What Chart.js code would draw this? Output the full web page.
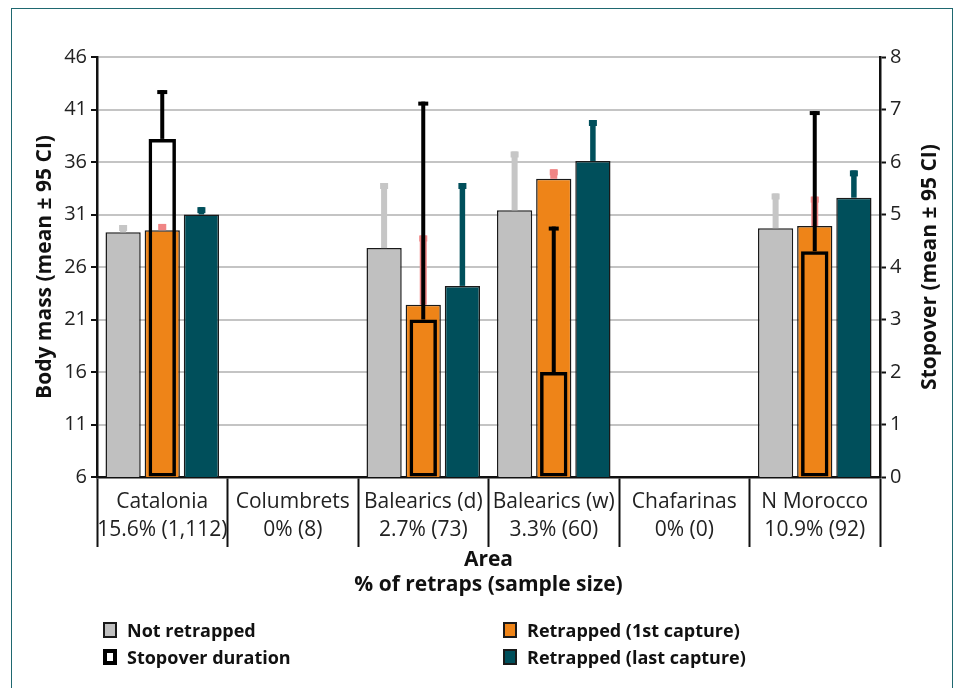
<!DOCTYPE html>
<html>
<head>
<meta charset="utf-8">
<script src="https://cdn.jsdelivr.net/npm/chart.js@4.4.1/dist/chart.umd.min.js"></script>
<style>
    html, body { margin: 0; padding: 0; background: #fff; }
    body { width: 955px; height: 688px; position: relative; overflow: hidden; font-family: "Open Sans", sans-serif; }
    .frame { position: absolute; left: 11px; top: 8px; width: 942px; height: 700px; border: 1.5px solid #1f6870; box-sizing: border-box; }
    #chart { position: absolute; left: 0; top: 0; }
    .legend-item { position: absolute; display: flex; align-items: center; font-weight: 700; font-size: 18px; color: #111; }
    .legend-box { width: 14px; height: 16px; box-sizing: border-box; margin-right: 10px; }
</style>
</head>
<body>
<div class="frame"></div>
<canvas id="chart" width="955" height="688"></canvas>
<div id="legend"></div>
<script>
// Categories and x tick labels
const areas = ['Catalonia', 'Columbrets', 'Balearics (d)', 'Balearics (w)', 'Chafarinas', 'N Morocco'];
const retrapPct = ['15.6%', '0%', '2.7%', '3.3%', '0%', '10.9%'];
const sampleSize = ['1,112', '8', '73', '60', '0', '92'];

// Body mass (mean) and upper 95% CI half-width, left axis
const notRetrapped = [29.3, null, 27.8, 31.4, null, 29.7];
const notRetrappedCI = [0.7, null, 6.2, 5.6, null, 3.3];
const firstCapture = [29.5, null, 22.4, 34.4, null, 29.9];
const firstCaptureCI = [0.6, null, 6.6, 0.9, null, 2.8];
const lastCapture = [31.0, null, 24.2, 36.1, null, 32.6];
const lastCaptureCI = [0.7, null, 9.8, 3.9, null, 2.6];

// Stopover duration (mean) and upper CI, right axis
const stopover = [6.44, null, 3.0, 2.0, null, 4.3];
const stopoverCI = [0.93, null, 4.15, 2.77, null, 2.67];

// Axis ticks
const massTicks = { min: 6, max: 46, step: 5 };
const stopTicks = { min: 0, max: 8, step: 1 };

const labels = areas.map((a, i) => [a, retrapPct[i] + ' (' + sampleSize[i] + ')']);
const rightTitle = 'Stopover (mean ± 95 CI)';

// draws only the plus side of each error bar, with a small square cap
const errorBars = {
    id: 'errorBars',
    afterDatasetDraw(chart, args) {
        const ds = chart.data.datasets[args.index];
        if (!ds.errorPlus) return;
        const meta = args.meta;
        const yScale = chart.scales[meta.yAxisID];
        const ctx = chart.ctx;
        ctx.save();
        meta.data.forEach((bar, i) => {
            const v = ds.data[i], e = ds.errorPlus[i];
            if (v == null || e == null) return;
            const yTop = yScale.getPixelForValue(v + e);
            ctx.fillStyle = ds.errorColor;
            ctx.fillRect(bar.x - ds.errorWidth / 2, yTop, ds.errorWidth, bar.y - yTop);
            ctx.fillRect(bar.x - ds.capWidth / 2, yTop, ds.capWidth, ds.capHeight);
        });
        ctx.restore();
    }
};

// right axis title reads bottom-to-top like the left one
const rightAxisTitle = {
    id: 'rightAxisTitle',
    afterDraw(chart) {
        const s = chart.scales.y2;
        const ctx = chart.ctx;
        ctx.save();
        ctx.translate(s.right - 11.5, (s.top + s.bottom) / 2);
        ctx.rotate(-Math.PI / 2);
        ctx.textAlign = 'center';
        ctx.textBaseline = 'middle';
        ctx.fillStyle = '#111';
        ctx.font = 'bold 21px "Open Sans"';
        ctx.fillText(rightTitle, 0, 0);
        ctx.restore();
    }
};

const tickFont = { family: 'Open Sans', size: 20 };
const titleFont = { family: 'Open Sans', size: 21, weight: 'bold', lineHeight: 1.1 };

const chart = new Chart(document.getElementById('chart'), {
    type: 'bar',
    data: {
        labels: labels,
        datasets: [
            {
                label: 'Not retrapped', data: notRetrapped, errorPlus: notRetrappedCI,
                backgroundColor: '#c0c0c0', borderColor: '#1a1a1a', borderWidth: 1.5,
                errorColor: '#c6c6c6', errorWidth: 6, capWidth: 8, capHeight: 6,
                categoryPercentage: 0.9, barPercentage: 0.9, yAxisID: 'y'
            },
            {
                label: 'Retrapped (1st capture)', data: firstCapture, errorPlus: firstCaptureCI,
                backgroundColor: '#ee8418', borderColor: '#1a1a1a', borderWidth: 1.5,
                errorColor: '#f08585', errorWidth: 7, capWidth: 8, capHeight: 6,
                categoryPercentage: 0.9, barPercentage: 0.9, yAxisID: 'y'
            },
            {
                label: 'Retrapped (last capture)', data: lastCapture, errorPlus: lastCaptureCI,
                backgroundColor: '#004f5b', borderColor: '#1a1a1a', borderWidth: 1.5,
                errorColor: '#004f5b', errorWidth: 5.5, capWidth: 8, capHeight: 6,
                categoryPercentage: 0.9, barPercentage: 0.9, yAxisID: 'y'
            },
            {
                label: 'Stopover duration', data: stopover, errorPlus: stopoverCI,
                backgroundColor: 'rgba(0,0,0,0)', borderColor: '#000', borderWidth: 3.5,
                borderSkipped: false,
                errorColor: '#000', errorWidth: 4, capWidth: 10, capHeight: 4,
                grouped: false, order: -1,
                categoryPercentage: 1, barPercentage: 0.21, yAxisID: 'y2'
            }
        ]
    },
    options: {
        responsive: false,
        animation: false,
        devicePixelRatio: 1,
        layout: { padding: { top: 57, left: 33, right: 13.5, bottom: 90.5 } },
        plugins: { legend: { display: false }, tooltip: { enabled: false } },
        scales: {
            x: {
                grid: { drawOnChartArea: false, tickLength: 70, tickColor: '#111', tickWidth: 2, offset: true },
                border: { color: '#111', width: 2.5 },
                ticks: { font: { family: 'Open Sans', size: 21, lineHeight: 1.33 }, color: '#222', padding: -59, maxRotation: 0, autoSkip: false },
                title: { display: true, text: ['Area', '% of retraps (sample size)'], color: '#111',
                         font: { family: 'Open Sans', size: 21, weight: 'bold', lineHeight: 1.19 }, padding: 0 },
                afterFit(scale) { scale.height = 120.5; }
            },
            y: {
                position: 'left',
                min: massTicks.min, max: massTicks.max,
                ticks: { stepSize: massTicks.step, font: tickFont, color: '#222', padding: 4 },
                grid: { color: '#c4c4c4', lineWidth: 2, tickColor: '#111', tickLength: 6, tickWidth: 2 },
                border: { color: '#111', width: 2.5 },
                title: { display: true, text: 'Body mass (mean ± 95 CI)', color: '#111', font: titleFont, padding: 0 },
                afterFit(scale) { scale.width = 64; }
            },
            y2: {
                position: 'right',
                min: stopTicks.min, max: stopTicks.max,
                ticks: { stepSize: stopTicks.step, font: tickFont, color: '#222', padding: 4 },
                grid: { drawOnChartArea: false, tickColor: '#111', tickLength: 6, tickWidth: 2 },
                border: { color: '#111', width: 2.5 },
                title: { display: false },
                afterFit(scale) { scale.width = 61.5; }
            }
        }
    },
    plugins: [errorBars, rightAxisTitle]
});

// Legend in two columns, built from the datasets
const legendPos = [
    { ds: 0, left: 103, top: 630 },
    { ds: 1, left: 503, top: 630 },
    { ds: 3, left: 103, top: 657 },
    { ds: 2, left: 503, top: 657 }
];
const legend = document.getElementById('legend');
legendPos.forEach(p => {
    const ds = chart.data.datasets[p.ds];
    const item = document.createElement('div');
    item.className = 'legend-item';
    item.style.left = p.left + 'px';
    item.style.top = (p.top - 12) + 'px';
    const box = document.createElement('span');
    box.className = 'legend-box';
    if (p.ds === 3) {
        box.style.background = '#fff';
        box.style.border = '4px solid #000';
    } else {
        box.style.background = ds.backgroundColor;
        box.style.border = '2px solid #1a1a1a';
    }
    item.appendChild(box);
    item.appendChild(document.createTextNode(ds.label));
    legend.appendChild(item);
});
</script>
</body>
</html>
